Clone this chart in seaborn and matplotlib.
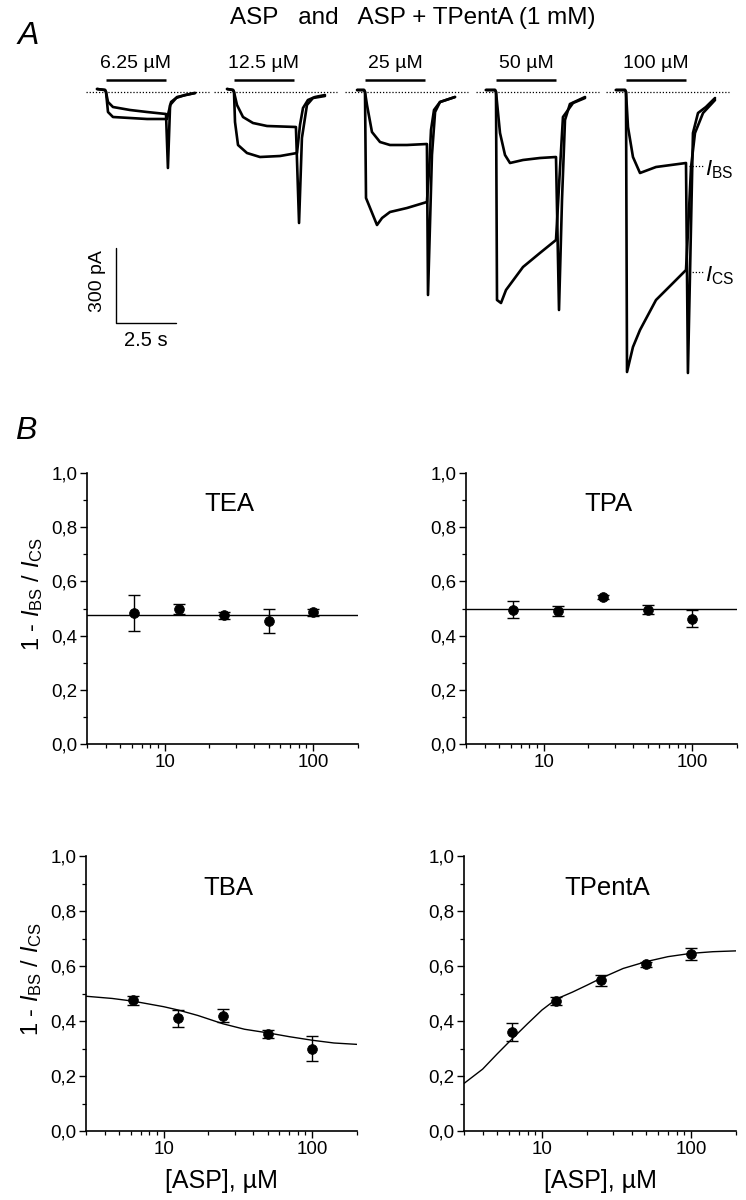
import numpy as np
import pandas as pd
import matplotlib
matplotlib.use("Agg")
import matplotlib.pyplot as plt
import matplotlib.ticker as mticker
import seaborn as sns

# ---------------- DATA ----------------
# Panel A: current traces (t in s relative to ASP onset, I in pA)
conc_labels = ["6.25 µM", "12.5 µM", "25 µM", "50 µM", "100 µM"]

# group 1 (6.25 uM)
g1_blk_t = [-0.375, -0.04, 0.0, 0.083, 0.29, 1.0, 1.71, 2.5, 2.58, 2.67, 2.96, 3.71]
g1_blk_i = [12, 8, 0, -40, -60, -72, -80, -88, -304, -52, -20, -4]
g1_ctl_t = [-0.375, -0.04, 0.0, 0.083, 0.29, 1.0, 1.71, 2.54, 2.71, 2.92, 3.29, 3.71]
g1_ctl_i = [12, 8, 0, -80, -100, -104, -108, -108, -40, -24, -12, -4]
# group 2 (12.5 uM)
g2_blk_t = [-0.29, -0.04, 0.0, 0.125, 0.375, 0.79, 1.375, 2.58, 2.71, 2.83, 3.04, 3.29, 3.79]
g2_blk_i = [12, 8, 0, -52, -100, -124, -136, -140, -524, -184, -52, -24, -16]
g2_ctl_t = [-0.29, -0.04, 0.0, 0.042, 0.167, 0.54, 1.083, 1.92, 2.625, 2.75, 2.875, 3.08, 3.375, 3.79]
g2_ctl_i = [12, 8, 0, -120, -212, -244, -260, -256, -244, -132, -64, -32, -20, -12]
# group 3 (25 uM)
g3_blk_t = [-0.33, -0.04, 0.0, 0.083, 0.29, 0.625, 1.04, 1.75, 2.58, 2.625, 2.79, 2.92, 3.125, 3.75]
g3_blk_i = [8, 8, 0, -52, -160, -200, -212, -212, -208, -812, -252, -80, -40, -20]
g3_ctl_t = [-0.33, -0.04, 0.0, 0.042, 0.33, 0.5, 0.71, 1.04, 1.75, 2.58, 2.67, 2.75, 2.875, 3.125, 3.75]
g3_ctl_i = [8, 8, 0, -424, -492, -532, -504, -480, -464, -440, -312, -152, -72, -40, -20]
# group 4 (50 uM)
g4_blk_t = [-0.42, -0.04, 0.0, 0.167, 0.375, 0.583, 1.125, 1.83, 2.5, 2.625, 2.75, 2.875, 3.08, 3.71]
g4_blk_i = [8, 8, 0, -164, -252, -284, -272, -264, -260, -872, -432, -112, -48, -20]
g4_ctl_t = [-0.42, -0.04, 0.0, 0.042, 0.208, 0.417, 1.125, 1.83, 2.5, 2.67, 2.79, 3.21, 3.71]
g4_ctl_i = [8, 8, 0, -832, -844, -792, -700, -644, -592, -300, -100, -44, -24]
# group 5 (100 uM)
g5_blk_t = [-0.42, -0.04, 0.0, 0.083, 0.29, 0.583, 1.25, 2.5, 2.58, 2.79, 3.0, 3.33, 3.71]
g5_blk_i = [8, 8, 0, -140, -260, -324, -300, -284, -1124, -164, -84, -60, -24]
g5_ctl_t = [-0.42, -0.04, 0.0, 0.042, 0.29, 0.583, 1.25, 1.96, 2.5, 2.58, 2.71, 2.875, 3.21, 3.71]
g5_ctl_i = [8, 8, 0, -1120, -1020, -952, -832, -764, -712, -564, -300, -164, -84, -32]

# Panel B: mean +- SEM of 1 - I_BS/I_CS
conc = [6.25, 12.5, 25, 50, 100]
tea_mean = [0.483, 0.499, 0.475, 0.453, 0.486]
tea_err = [0.067, 0.018, 0.013, 0.044, 0.012]
tpa_mean = [0.496, 0.490, 0.543, 0.496, 0.463]
tpa_err = [0.032, 0.018, 0.008, 0.018, 0.033]
tba_mean = [0.475, 0.410, 0.420, 0.352, 0.300]
tba_err = [0.015, 0.030, 0.025, 0.015, 0.046]
tpe_mean = [0.361, 0.473, 0.549, 0.606, 0.644]
tpe_err = [0.033, 0.015, 0.020, 0.010, 0.021]

# fitted curves
tea_fit_x = [3, 200]
tea_fit_y = [0.477, 0.477]
tpa_fit_x = [3, 200]
tpa_fit_y = [0.498, 0.498]
tba_fit_x = [3, 4.5, 6.25, 10, 12.5, 17, 25, 35, 50, 70, 100, 140, 200]
tba_fit_y = [0.49, 0.482, 0.472, 0.452, 0.44, 0.42, 0.39, 0.37, 0.357, 0.343, 0.33, 0.32, 0.315]
tpe_fit_x = [3, 4, 5, 6.25, 8, 10, 12.5, 16, 20, 25, 35, 50, 70, 100, 140, 200]
tpe_fit_y = [0.173, 0.225, 0.28, 0.333, 0.39, 0.44, 0.48, 0.505, 0.53, 0.556, 0.591, 0.616, 0.634, 0.646, 0.652, 0.655]

panel_names = ["TEA", "TPA", "TBA", "TPentA"]
ytick_labels = ["0,0", "0,2", "0,4", "0,6", "0,8", "1,0"]

# ---------------- STYLE ----------------
sns.set_theme(style="ticks")
plt.rcParams["font.family"] = ["Liberation Sans", "DejaVu Sans"]
plt.rcParams["mathtext.fontset"] = "custom"
plt.rcParams["mathtext.rm"] = "Liberation Sans"
plt.rcParams["mathtext.it"] = "Liberation Sans:italic"
plt.rcParams["mathtext.bf"] = "Liberation Sans:bold"
plt.rcParams["text.color"] = "black"
plt.rcParams["axes.labelcolor"] = "black"
plt.rcParams["xtick.color"] = "black"
plt.rcParams["ytick.color"] = "black"

W, H = 746, 1200
fig = plt.figure(figsize=(W / 100, H / 100), dpi=100)
fig.patch.set_facecolor("white")

# ---------------- PANEL A ----------------
PX_PER_S = 24.0
PA_PER_PX = 4.0
BASE_PX = 92.0
topH = 400
axA = fig.add_axes([0, 1 - topH / H, 1, topH / H])
axA.set_xlim(0, W / PX_PER_S)
axA.set_ylim(-(topH - BASE_PX) * PA_PER_PX, BASE_PX * PA_PER_PX)
axA.axis("off")

def px2x(px):
    return px / PX_PER_S

def py2y(py):
    return -(py - BASE_PX) * PA_PER_PX

onsets_px = [106, 234, 365, 496, 626]
groups = [
    (g1_blk_t, g1_blk_i, g1_ctl_t, g1_ctl_i),
    (g2_blk_t, g2_blk_i, g2_ctl_t, g2_ctl_i),
    (g3_blk_t, g3_blk_i, g3_ctl_t, g3_ctl_i),
    (g4_blk_t, g4_blk_i, g4_ctl_t, g4_ctl_i),
    (g5_blk_t, g5_blk_i, g5_ctl_t, g5_ctl_i),
]
for k, (bt, bi, ct, ci) in enumerate(groups):
    t0 = px2x(onsets_px[k])
    # baseline dotted
    axA.plot([t0 - px2x(20), t0 + px2x(103)], [0, 0], ls=(0, (1, 1.5)), color="black", lw=0.9)
    for tt, ii in ((ct, ci), (bt, bi)):
        sns.lineplot(x=np.array(tt) + t0, y=ii, sort=False, estimator=None,
                     color="black", lw=1.9, ax=axA)
    # application bar
    axA.plot([t0, t0 + 2.5], [py2y(80), py2y(80)], color="black", lw=1.8, solid_capstyle="butt")
    axA.text(t0 + 1.25, py2y(64), conc_labels[k], ha="center", va="center", fontsize=14)

# scale bar
axA.plot([px2x(116), px2x(116), px2x(176)], [py2y(248), py2y(323), py2y(323)], color="black", lw=1.0)
axA.text(px2x(97), py2y(281), "300 pA", rotation=90, ha="center", va="center", fontsize=14)
axA.text(px2x(146), py2y(340), "2.5 s", ha="center", va="center", fontsize=14.5)

# I_BS / I_CS labels
axA.plot([px2x(689), px2x(704)], [py2y(166), py2y(166)], ls=(0, (1, 1.5)), color="black", lw=0.9)
axA.plot([px2x(689), px2x(704)], [py2y(272), py2y(272)], ls=(0, (1, 1.5)), color="black", lw=0.9)
axA.text(px2x(705), py2y(170), r"$\mathit{I}_{\rm BS}$", ha="left", va="center", fontsize=16)
axA.text(px2x(705), py2y(276), r"$\mathit{I}_{\rm CS}$", ha="left", va="center", fontsize=16)

fig.text(413 / W, 1 - 18 / H, "ASP   and   ASP + TPentA (1 mM)", ha="center", va="center", fontsize=17.5)
fig.text(28 / W, 1 - 36 / H, "A", ha="center", va="center", fontsize=23, style="italic")
fig.text(26 / W, 1 - 431 / H, "B", ha="center", va="center", fontsize=23, style="italic")

# ---------------- PANEL B ----------------
rects = [
    [87 / W, 1 - 744 / H, 271 / W, 271 / H],
    [466 / W, 1 - 744 / H, 271 / W, 271 / H],
    [86 / W, 1 - 1131 / H, 271 / W, 275 / H],
    [464 / W, 1 - 1131 / H, 272 / W, 275 / H],
]
means = [tea_mean, tpa_mean, tba_mean, tpe_mean]
errs = [tea_err, tpa_err, tba_err, tpe_err]
fits = [(tea_fit_x, tea_fit_y), (tpa_fit_x, tpa_fit_y), (tba_fit_x, tba_fit_y), (tpe_fit_x, tpe_fit_y)]

for k in range(4):
    ax = fig.add_axes(rects[k])
    fx, fy = fits[k]
    sns.lineplot(x=fx, y=fy, color="black", lw=1.0, ax=ax, sort=False, estimator=None)
    ax.errorbar(conc, means[k], yerr=errs[k], fmt="none", ecolor="black",
                elinewidth=1.0, capsize=4, capthick=1.0, zorder=3)
    sns.scatterplot(x=conc, y=means[k], color="black", s=50, edgecolor="black",
                    linewidth=0.5, ax=ax, zorder=4)
    ax.set_xscale("log")
    ax.set_xlim(3, 200)
    ax.set_ylim(0, 1.0)
    ax.set_yticks([0, 0.2, 0.4, 0.6, 0.8, 1.0])
    ax.set_yticklabels(ytick_labels)
    ax.yaxis.set_minor_locator(mticker.MultipleLocator(0.1))
    ax.xaxis.set_major_locator(mticker.FixedLocator([10, 100]))
    ax.xaxis.set_major_formatter(mticker.FixedFormatter(["10", "100"]))
    ax.xaxis.set_minor_locator(mticker.LogLocator(base=10, subs=np.arange(2, 10), numticks=10))
    ax.xaxis.set_minor_formatter(mticker.NullFormatter())
    ax.tick_params(axis="both", which="major", direction="out", length=5, width=1.0,
                   labelsize=13.5, color="black", labelcolor="black", pad=2)
    ax.tick_params(axis="both", which="minor", direction="out", length=3, width=0.9, color="black")
    for s in ["top", "right"]:
        ax.spines[s].set_visible(False)
    for s in ["left", "bottom"]:
        ax.spines[s].set_linewidth(1.2)
        ax.spines[s].set_color("black")
    ax.set_facecolor("white")
    ax.text(0.525, 0.885, panel_names[k], transform=ax.transAxes, ha="center", va="center", fontsize=18.5)
    if k in (0, 2):
        ax.set_ylabel(r"1 - $\mathit{I}_{\rm BS}$ / $\mathit{I}_{\rm CS}$", fontsize=17)
        ax.yaxis.set_label_coords(-0.155, 0.553)
    else:
        ax.set_ylabel("")
    if k in (2, 3):
        ax.set_xlabel("[ASP], µM", fontsize=18, labelpad=8)
    else:
        ax.set_xlabel("")

fig.savefig("out.png", dpi=100, facecolor="white")
